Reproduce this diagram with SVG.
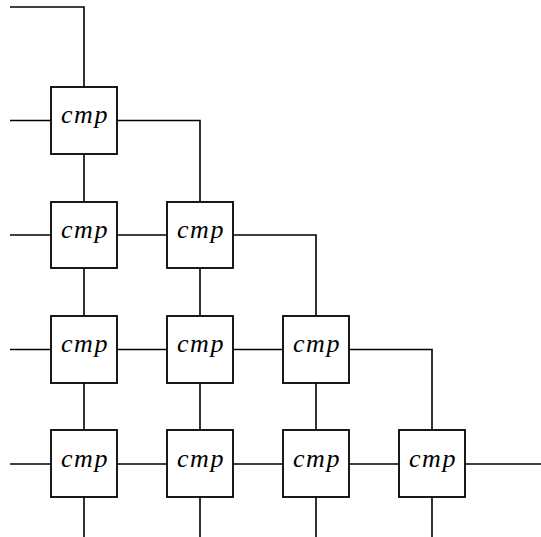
<svg xmlns="http://www.w3.org/2000/svg" width="541" height="537" viewBox="0 0 541 537">
<style>
.w{fill:none;stroke:#000;stroke-width:1.6}
.b{fill:#fff;stroke:#000;stroke-width:1.8}
.t{font-family:"Liberation Serif","DejaVu Serif",serif;font-style:italic;font-size:26px;letter-spacing:1.5px;text-anchor:middle}
</style>
<rect width="541" height="537" fill="#fff"/>
<g id="connectors" class="w">
<path d="M10 7H84V87"/>
<path d="M10 120.5H51M117 120.5H200V202"/>
<path d="M10 235H51M117 235H167M233 235H316V316"/>
<path d="M10 349.5H51M117 349.5H167M233 349.5H283M349 349.5H432V430"/>
<path d="M10 464H51M117 464H167M233 464H283M349 464H399M465 464H541"/>
<path d="M84 154V202M84 268V316M84 383V430M84 497V537"/>
<path d="M200 268V316M200 383V430M200 497V537"/>
<path d="M316 383V430M316 497V537"/>
<path d="M432 497V537"/>
</g>
<g id="n00"><rect class="b" x="51" y="87" width="66" height="67"/><text class="t" x="85" y="123">cmp</text></g>
<g id="n10"><rect class="b" x="51" y="202" width="66" height="66"/><text class="t" x="85" y="237.5">cmp</text></g>
<g id="n11"><rect class="b" x="167" y="202" width="66" height="66"/><text class="t" x="201" y="237.5">cmp</text></g>
<g id="n20"><rect class="b" x="51" y="316" width="66" height="67"/><text class="t" x="85" y="352">cmp</text></g>
<g id="n21"><rect class="b" x="167" y="316" width="66" height="67"/><text class="t" x="201" y="352">cmp</text></g>
<g id="n22"><rect class="b" x="283" y="316" width="66" height="67"/><text class="t" x="317" y="352">cmp</text></g>
<g id="n30"><rect class="b" x="51" y="430" width="66" height="67"/><text class="t" x="85" y="466.5">cmp</text></g>
<g id="n31"><rect class="b" x="167" y="430" width="66" height="67"/><text class="t" x="201" y="466.5">cmp</text></g>
<g id="n32"><rect class="b" x="283" y="430" width="66" height="67"/><text class="t" x="317" y="466.5">cmp</text></g>
<g id="n33"><rect class="b" x="399" y="430" width="66" height="67"/><text class="t" x="433" y="466.5">cmp</text></g>
</svg>
